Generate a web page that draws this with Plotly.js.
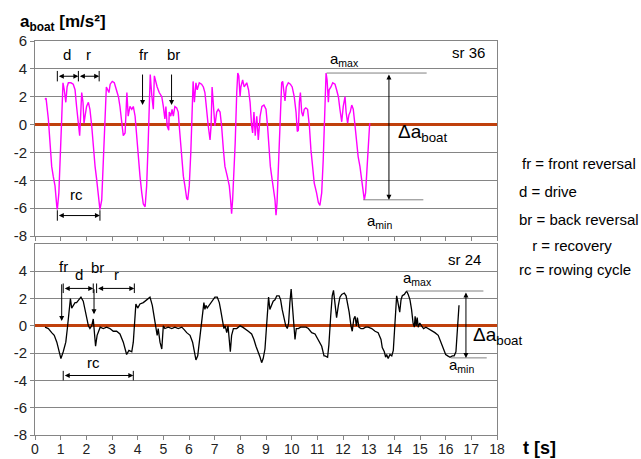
<!DOCTYPE html>
<html><head><meta charset="utf-8">
<script src="https://cdn.plot.ly/plotly-3.0.1.min.js"></script>
<style>body{margin:0;padding:0;background:#fff}#chart{width:641px;height:459px}</style>
</head><body><div id="chart"></div>
<script>
// ---- data: stroke rate 36 (top panel) ----
const tSr36 = [0.39,0.43,0.52,0.58,0.65,0.71,0.78,0.85,0.87,0.93,0.99,1.04,1.09,1.14,1.20,1.25,1.30,1.40,1.49,1.56,
1.62,1.69,1.74,1.79,1.82,1.87,1.91,1.95,2.01,2.08,2.14,2.21,2.27,2.34,2.40,2.47,2.53,2.60,2.66,2.73,
2.78,2.83,2.88,2.93,3.01,3.09,3.18,3.25,3.31,3.38,3.44,3.51,3.55,3.58,3.63,3.70,3.77,3.83,3.90,3.96,
4.02,4.09,4.16,4.22,4.29,4.35,4.41,4.45,4.49,4.55,4.61,4.65,4.71,4.76,4.84,4.94,5.00,5.06,5.10,5.15,
5.21,5.23,5.29,5.34,5.39,5.45,5.52,5.58,5.62,5.68,5.73,5.78,5.84,5.91,5.95,6.01,6.07,6.12,6.16,6.21,
6.27,6.32,6.40,6.49,6.56,6.62,6.69,6.75,6.82,6.86,6.90,6.95,7.01,7.08,7.14,7.21,7.27,7.34,7.40,7.49,
7.57,7.62,7.66,7.70,7.75,7.80,7.86,7.90,7.94,7.99,8.02,8.09,8.15,8.25,8.32,8.38,8.44,8.48,8.53,8.58,
8.64,8.70,8.77,8.84,8.92,9.00,9.06,9.11,9.17,9.22,9.28,9.35,9.39,9.43,9.48,9.54,9.61,9.65,9.70,9.74,
9.79,9.87,9.95,10.02,10.10,10.17,10.22,10.26,10.30,10.34,10.39,10.44,10.49,10.55,10.62,10.69,10.75,10.82,10.88,10.97,
11.04,11.10,11.17,11.23,11.30,11.34,11.38,11.43,11.46,11.53,11.60,11.69,11.75,11.82,11.88,11.95,12.01,12.08,12.12,12.18,
12.23,12.28,12.34,12.40,12.47,12.53,12.59,12.66,12.73,12.79,12.83,12.88,12.93,12.98,13.04];
const aSr36 = [1.8,1.9,0.4,-1.3,-3.0,-3.7,-4.4,-5.9,-6.1,-4.9,-2.5,0.4,3.0,2.5,1.6,2.7,3.0,3.0,2.9,2.5,
1.3,0.1,-0.8,1.1,2.3,1.6,0.1,0.6,1.3,1.6,1.1,-0.1,-1.6,-3.0,-3.9,-4.9,-6.1,-5.4,-2.5,1.1,
2.7,2.5,2.3,2.9,3.1,3.0,2.5,2.0,1.3,-0.1,-0.8,-0.6,1.1,2.3,0.6,1.3,1.1,1.3,0.6,-0.8,
-2.5,-3.7,-4.9,-5.7,-5.9,-4.4,-1.3,1.5,3.6,2.1,1.1,3.5,3.0,2.7,2.3,2.0,1.3,0.4,1.3,-0.1,
-0.4,0.9,0.6,1.1,0.6,1.3,1.2,0.9,-0.1,-1.6,-3.0,-3.7,-4.4,-5.3,-5.4,-4.4,-2.0,1.6,3.1,1.6,
3.0,2.5,3.0,2.9,2.7,2.3,0.9,-0.1,-1.1,-0.1,2.7,1.3,-0.1,0.9,1.1,0.9,-0.1,-1.8,-3.0,-3.7,
-4.4,-5.4,-6.4,-5.4,-3.7,-1.3,2.3,3.7,3.5,2.0,2.7,3.2,2.7,3.0,2.5,1.6,-0.1,-0.6,0.9,-0.8,
0.6,-1.1,0.6,1.3,1.4,1.1,-0.1,-1.6,-3.0,-3.7,-4.4,-5.4,-6.5,-5.6,-3.2,-0.1,3.0,3.1,2.5,1.7,
2.7,3.0,2.9,2.7,2.0,0.9,-0.5,-0.4,1.6,2.3,0.9,0.6,1.1,1.2,1.1,-0.1,-1.8,-3.2,-4.2,-4.9,
-5.6,-5.8,-4.9,-2.5,1.1,3.7,3.2,1.6,2.5,2.7,3.0,2.9,2.5,2.0,1.1,0.2,1.3,2.0,0.9,0.1,
0.7,0.9,1.4,1.1,-0.1,-1.3,-2.3,-3.0,-3.9,-4.9,-5.4,-4.9,-3.2,-1.3,0.1];

// ---- data: stroke rate 24 (bottom panel) ----
const tSr24 = [0.39,0.52,0.65,0.75,0.85,0.93,1.01,1.10,1.20,1.26,1.32,1.38,1.43,1.49,1.56,1.62,1.69,1.79,1.88,1.95,
2.01,2.08,2.14,2.21,2.27,2.31,2.36,2.42,2.47,2.54,2.66,2.79,2.92,3.05,3.18,3.31,3.44,3.51,3.57,3.66,
3.77,3.83,3.90,3.93,4.00,4.09,4.22,4.35,4.48,4.57,4.65,4.71,4.76,4.80,4.87,4.94,5.00,5.06,5.19,5.33,
5.45,5.58,5.72,5.82,5.91,6.04,6.14,6.21,6.27,6.34,6.40,6.47,6.53,6.58,6.62,6.66,6.71,6.78,6.84,6.91,
7.01,7.10,7.18,7.23,7.30,7.36,7.41,7.47,7.52,7.57,7.61,7.66,7.73,7.86,7.92,7.99,8.09,8.18,8.31,8.44,
8.53,8.61,8.70,8.77,8.83,8.89,8.96,9.01,9.07,9.10,9.15,9.22,9.28,9.35,9.42,9.51,9.57,9.63,9.70,9.77,
9.83,9.88,9.93,9.98,10.04,10.09,10.13,10.18,10.26,10.35,10.45,10.56,10.65,10.78,10.91,11.04,11.17,11.26,11.30,11.40,
11.45,11.52,11.58,11.63,11.69,11.75,11.82,11.88,11.95,12.05,12.12,12.18,12.24,12.31,12.36,12.42,12.47,12.52,12.56,12.62,
12.70,12.79,12.88,12.98,13.12,13.25,13.37,13.48,13.53,13.61,13.66,13.70,13.76,13.83,13.90,13.96,14.00,14.05,14.09,14.13,
14.17,14.21,14.26,14.31,14.39,14.48,14.54,14.61,14.67,14.73,14.78,14.81,14.85,14.89,14.93,14.99,15.06,15.14,15.23,15.32,
15.45,15.58,15.71,15.82,15.91,16.00,16.08,16.17,16.26,16.33,16.40,16.45,16.49,16.52];
const aSr24 = [-0.1,-0.2,-0.5,-0.7,-1.2,-1.8,-2.4,-1.9,-1.2,-0.2,1.2,2.0,1.3,1.5,1.7,1.7,1.9,2.1,1.8,1.2,
0.5,0.0,-0.2,0.0,0.5,-0.5,-1.5,-0.7,-0.5,-0.1,-0.2,-0.1,-0.2,-0.4,-0.4,-0.6,-1.2,-1.7,-2.1,-1.8,
-1.9,-1.2,0.5,1.6,1.3,1.6,1.7,1.9,2.1,1.5,0.5,0.0,-0.7,-0.2,-1.2,-1.7,0.0,-0.2,-0.1,-0.2,
-0.1,-0.2,-0.1,-0.3,-0.5,-0.7,-1.2,-1.9,-2.5,-2.2,-1.2,-0.2,0.7,1.7,1.2,1.5,1.3,1.5,1.7,1.9,
2.1,2.1,1.7,1.2,0.5,-0.2,0.0,-0.5,0.0,-1.2,-1.9,-0.7,-0.2,-0.2,-0.1,0.0,-0.1,-0.2,-0.4,-0.6,
-1.0,-1.5,-1.9,-2.3,-2.7,-2.4,-1.7,-0.2,1.2,2.1,1.2,1.5,1.8,1.9,2.2,2.2,1.9,1.2,0.5,0.0,
-0.2,0.2,1.7,2.7,1.2,0.0,-1.0,-0.2,-0.2,-0.1,-0.1,-0.1,-0.2,-0.5,-0.6,-1.0,-1.5,-2.2,-2.2,-2.3,
-1.4,0.7,2.2,2.6,1.7,0.6,1.5,2.1,2.3,2.4,2.2,1.7,1.0,0.0,-0.4,0.5,0.7,0.0,0.6,-0.1,
-0.2,-0.2,-0.1,-0.1,-0.2,-0.4,-0.5,-1.0,-1.6,-1.9,-2.3,-2.1,-2.4,-2.1,-2.2,-1.8,-0.7,1.0,2.2,1.8,
1.5,1.0,1.9,2.2,2.3,2.55,2.3,1.9,1.2,0.2,-0.1,0.7,0.0,0.6,-0.1,0.2,0.0,-0.2,-0.1,-0.2,
-0.4,-0.5,-0.7,-1.2,-1.7,-2.1,-2.2,-2.3,-2.2,-2.2,-1.9,-0.5,1.2,1.5];

const xTicks = [0,1,2,3,4,5,6,7,8,9,10,11,12,13,14,15,16,17,18];
const yTicksTop = [-8,-6,-4,-2,0,2,4,6];
const yTicksBot = [-8,-6,-4,-2,0,2,4];
const legendLines = ["fr = front reversal","d = drive","br = back reversal"," r = recovery","rc = rowing cycle"];

// ---- styling ----
const FONT = "Arial, 'Liberation Sans', sans-serif";
const GRID = "#858585";
const ZERO = "#c0400c";

function xAx(anchor, labels){
  return {domain:[0,1], anchor:anchor, range:[0,18], tickvals:xTicks, ticktext:xTicks.map(String),
    showticklabels:labels, ticks:"outside", ticklen:4, tickcolor:GRID, showgrid:false,
    showline:true, linecolor:GRID, mirror:true, zeroline:false, ticklabelstandoff:-3,
    tickfont:{family:FONT,size:14,color:"#222"}};
}
function yAx(domain, vals){
  return {domain:domain, range:[-8,6], tickvals:vals, ticktext:vals.map(String),
    ticks:"outside", ticklen:4, tickcolor:GRID, showgrid:true, gridcolor:GRID, gridwidth:1,
    showline:true, linecolor:GRID, mirror:true, zeroline:true, zerolinecolor:ZERO, zerolinewidth:2.8,
    tickfont:{family:FONT,size:15,color:"#222"}};
}

const traces = [
  {x:tSr36, y:aSr36, xaxis:"x", yaxis:"y", mode:"lines", line:{color:"#ff00ff", width:1.4}, hoverinfo:"skip"},
  {x:tSr24, y:aSr24, xaxis:"x2", yaxis:"y2", mode:"lines", line:{color:"#000000", width:1.3}, hoverinfo:"skip"}
];

const anns = [];
function label(xr, yr, x, y, text, opts){
  anns.push(Object.assign({xref:xr, yref:yr, x:x, y:y, text:text, showarrow:false, yanchor:"middle",
    font:{family:FONT, size:15, color:"#000"}}, opts||{}));
}
function arrow(xr, yr, x0, y0, x1, y1, both){
  anns.push({xref:xr, yref:yr, axref:xr, ayref:yr, x:x1, y:y1, ax:x0, ay:y0, text:"",
    showarrow:true, arrowhead:2, startarrowhead:2, arrowside: both ? "end+start" : "end",
    arrowsize:1, startarrowsize:1, arrowwidth:1, arrowcolor:"#000", standoff:0, startstandoff:0});
}
const BIG = {family:FONT,size:19,color:"#000"};

// top panel labels
label("x","y",1.25,5.0,"d");
label("x","y",2.08,5.0,"r");
label("x","y",4.22,5.0,"fr");
label("x","y",5.39,5.0,"br");
label("x","y",1.62,-5.0,"rc");
label("x","y",17.6,5.15,"sr 36",{xanchor:"right"});
label("x","y",11.4,4.67,"a<sub>max</sub>",{xanchor:"left"});
label("x","y",14.05,-0.57,"Δa<sub>boat</sub>",{xanchor:"left", font:BIG});
label("x","y",12.85,-6.96,"a<sub>min</sub>",{xanchor:"left"});
arrow("x","y",0.87,3.47,1.69,3.47,true);
arrow("x","y",1.69,3.47,2.50,3.47,true);
arrow("x","y",4.19,3.7,4.19,1.4,false);
arrow("x","y",5.32,3.7,5.32,1.4,false);
arrow("x","y",0.87,-6.53,2.53,-6.53,true);
arrow("x","y",13.79,3.7,13.79,-5.4,true);

// bottom panel labels
label("x2","y2",1.10,4.36,"fr");
label("x2","y2",1.71,3.76,"d");
label("x2","y2",2.43,4.24,"br");
label("x2","y2",3.18,3.76,"r");
label("x2","y2",2.27,-2.67,"rc");
label("x2","y2",17.45,4.87,"sr 24",{xanchor:"right"});
label("x2","y2",14.25,3.5,"a<sub>max</sub>",{xanchor:"left"});
label("x2","y2",16.97,-0.73,"Δa<sub>boat</sub>",{xanchor:"left", font:BIG});
label("x2","y2",16.05,-2.9,"a<sub>min</sub>",{xanchor:"left"});
arrow("x2","y2",1.04,3.15,1.04,0.36,false);
arrow("x2","y2",2.30,2.79,2.30,0.85,false);
arrow("x2","y2",1.10,2.74,2.27,2.74,true);
arrow("x2","y2",2.40,2.74,3.87,2.74,true);
arrow("x2","y2",1.10,-3.64,3.83,-3.64,true);
arrow("x2","y2",16.79,2.55,16.79,-2.35,true);

// axis titles and explanation text
label("paper","paper",-0.037,1.078,"<b>a<sub>boat</sub> [m/s²]</b>",{xanchor:"left", yanchor:"top", font:{family:FONT,size:17,color:"#000"}});
label("paper","paper",1.052,-0.033,"<b>t [s]</b>",{xanchor:"left", font:{family:FONT,size:18,color:"#000"}});
const legY = [0.690,0.617,0.546,0.482,0.419];
const legX = [1.050,1.043,1.043,1.063,1.043];
legendLines.forEach((s,i)=>label("paper","paper",legX[i],legY[i],s,{xanchor:"left", font:{family:FONT,size:15,color:"#000"}}));

// reference lines and end markers
const shapes = [];
function seg(xr, yr, x0, y0, x1, y1, color){
  shapes.push({type:"line", xref:xr, yref:yr, x0:x0, y0:y0, x1:x1, y1:y1, line:{color:color||"#808080", width:1}});
}
seg("x","y",11.36,3.7,15.26,3.7);
seg("x","y",12.79,-5.4,15.13,-5.4);
seg("x2","y2",14.48,2.55,17.47,2.55);
seg("x2","y2",16.2,-2.35,17.6,-2.35);
[0.87,1.69,2.50].forEach(t=>seg("x","y",t,3.1,t,3.85,"#000"));
[0.87,2.53].forEach(t=>seg("x","y",t,-6.15,t,-6.9,"#000"));
[1.10,2.27,2.40,3.87].forEach(t=>seg("x2","y2",t,2.4,t,3.1,"#000"));
[1.10,3.83].forEach(t=>seg("x2","y2",t,-3.3,t,-4.0,"#000"));

const layout = {
  width:641, height:459, margin:{l:35, r:144, t:41, b:24},
  paper_bgcolor:"#fff", plot_bgcolor:"#fff", showlegend:false,
  font:{family:FONT, color:"#000"},
  xaxis: xAx("y", false),
  yaxis: yAx([0.505,1], yTicksTop),
  xaxis2: xAx("y2", true),
  yaxis2: yAx([0,0.485], yTicksBot),
  annotations: anns, shapes: shapes
};
Plotly.newPlot("chart", traces, layout, {staticPlot:true, displayModeBar:false});
</script></body></html>
